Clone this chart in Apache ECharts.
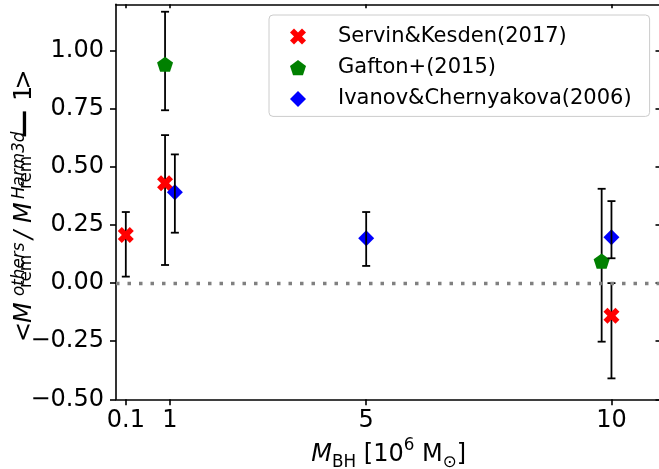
<!DOCTYPE html>
<html><head><meta charset="utf-8">
<script src="https://cdn.jsdelivr.net/npm/echarts@6/dist/echarts.min.js"></script>
<style>html,body{margin:0;padding:0;background:#fff}#c{width:659px;height:469px}</style>
</head><body><div id="c"></div>
<script>
// ---- data ----
const xTicks = [0.1, 1, 5, 10];
const yTicks = [-0.5, -0.25, 0, 0.25, 0.5, 0.75, 1.0];
const seriesNames = ['Servin&Kesden(2017)', 'Gafton+(2015)', 'Ivanov&Chernyakova(2006)'];
const servinX  = [0.1, 0.9, 10.0];
const servinY  = [0.207, 0.430, -0.140];
const servinLo = [0.028, 0.078, -0.410];
const servinHi = [0.306, 0.637, 0.0];
const gaftonX  = [0.9, 9.8];
const gaftonY  = [0.942, 0.095];
const gaftonLo = [0.744, -0.252];
const gaftonHi = [1.168, 0.406];
const ivanovX  = [1.1, 5.0, 10.0];
const ivanovY  = [0.391, 0.193, 0.197];
const ivanovLo = [0.217, 0.074, 0.107];
const ivanovHi = [0.554, 0.306, 0.353];

const FONT = 'DejaVu Sans';
const pts = (xs, ys) => xs.map((x, i) => [x, ys[i]]);
const errs = (xs, lo, hi) => xs.map((x, i) => [x, lo[i], hi[i]]);

function renderErr(params, api) {
  const x = api.value(0), lo = api.value(1), hi = api.value(2);
  const a = api.coord([x, lo]), b = api.coord([x, hi]);
  const cap = 4;
  const style = {stroke: '#000', lineWidth: 1.8};
  return {type: 'group', children: [
    {type: 'line', shape: {x1: a[0], y1: a[1], x2: b[0], y2: b[1]}, style},
    {type: 'line', shape: {x1: a[0] - cap, y1: a[1], x2: a[0] + cap, y2: a[1]}, style},
    {type: 'line', shape: {x1: b[0] - cap, y1: b[1], x2: b[0] + cap, y2: b[1]}, style}
  ]};
}

const X_PATH = 'path://M1,-2L2,-1L1,0L2,1L1,2L0,1L-1,2L-2,1L-1,0L-2,-1L-1,-2L0,-1Z';
const PENT_PATH = 'path://M0,-1L0.951,-0.309L0.588,0.809L-0.588,0.809L-0.951,-0.309Z';

const chart = echarts.init(document.getElementById('c'), null, {renderer: 'canvas'});

const tickLabelStyle = {fontFamily: FONT, fontSize: 24, color: '#000'};
const lineBlack = {color: '#000', width: 1.6};

const fmtY = v => (v < 0 ? '\u2212' : '') + Math.abs(v).toFixed(2);

// y-title tokens (local coords of a rotated group)
const M24 = -8.3, SUP = -13.8, SUB = -6;
function tk(text, x, y, size, italic) {
  return {type: 'text', x: x, y: y, style: {text: text, fontFamily: FONT, fontSize: size,
    fontStyle: italic ? 'italic' : 'normal', fill: '#000', align: 'left', verticalAlign: 'middle'}};
}

chart.setOption({
  animation: false,
  backgroundColor: '#fff',
  grid: {left: 116, top: 4.3, width: 545.5, height: 395, containLabel: false, outerBoundsMode: 'none'},
  legend: {
    data: seriesNames, orient: 'vertical', left: 269, top: 15,
    padding: [11, 18, 7, 21],
    itemWidth: 16, itemHeight: 16, itemGap: 10.2,
    borderColor: '#cccccc', borderWidth: 1, borderRadius: 4,
    backgroundColor: 'rgba(255,255,255,0.8)',
    selectedMode: false,
    textStyle: {fontFamily: FONT, fontSize: 21, color: '#000', lineHeight: 16, padding: [0, 0, 0, 27]}
  },
  xAxis: [{
    type: 'value', min: -0.1, max: 11.02, position: 'bottom',
    axisLine: {onZero: false, lineStyle: lineBlack},
    axisTick: {customValues: xTicks, length: 6, lineStyle: lineBlack},
    axisLabel: Object.assign({customValues: xTicks, margin: 9, formatter: v => String(v)}, tickLabelStyle),
    splitLine: {show: false},
    name: '{i|M}{sub|BH}{n| [10}{sup|6}{n| M}{sub|\u2299}{n|]}',
    nameLocation: 'middle', nameGap: 38,
    nameTextStyle: {fontFamily: FONT, fontSize: 24, color: '#000', rich: {
      i: {fontFamily: FONT, fontSize: 24, fontStyle: 'italic', lineHeight: 34, verticalAlign: 'middle'},
      n: {fontFamily: FONT, fontSize: 24, lineHeight: 34, verticalAlign: 'middle'},
      sub: {fontFamily: FONT, fontSize: 16.8, lineHeight: 21.6, verticalAlign: 'bottom'},
      sup: {fontFamily: FONT, fontSize: 16.8, lineHeight: 29, verticalAlign: 'top'}
    }}
  }, {
    type: 'value', min: -0.1, max: 11.02, position: 'top',
    axisLine: {show: true, onZero: false, lineStyle: lineBlack},
    axisTick: {show: true, inside: true, customValues: xTicks, length: 4, lineStyle: lineBlack},
    axisLabel: {show: false}, splitLine: {show: false}
  }],
  yAxis: [{
    type: 'value', min: -0.5, max: 1.2, position: 'left',
    axisLine: {show: true, onZero: false, lineStyle: lineBlack},
    axisTick: {show: true, customValues: yTicks, length: 6, lineStyle: lineBlack},
    axisLabel: Object.assign({customValues: yTicks, margin: 12, formatter: fmtY}, tickLabelStyle),
    splitLine: {show: false}
  }, {
    type: 'value', min: -0.5, max: 1.2, position: 'right',
    axisLine: {show: true, onZero: false, lineStyle: lineBlack},
    axisTick: {show: true, inside: true, customValues: yTicks, length: 6, lineStyle: lineBlack},
    axisLabel: {show: false}, splitLine: {show: false}
  }],
  graphic: [{
    type: 'group', x: 33, y: 343, rotation: Math.PI / 2, silent: true,
    children: [
      tk('<', 1, M24, 24, false),
      tk('M', 20, M24, 24, true),
      tk('others', 47, SUP, 16.8, true),
      tk('rem', 55, SUB, 16.8, false),
      tk('/', 104, M24, 24, true),
      tk('M', 120, M24, 24, true),
      tk('Harm3d', 144, SUP, 16.8, true),
      tk('rem', 154, SUB, 16.8, false),
      tk('\u2212', 202.6, -6, 40, false),
      tk('1', 242, M24, 24, false),
      tk('>', 253.5, M24, 24, false)
    ]
  }],
  series: [
    {type: 'custom', name: 'errServin', renderItem: renderErr, data: errs(servinX, servinLo, servinHi),
      encode: {x: 0, y: [1, 2]}, z: 1, silent: true},
    {type: 'custom', name: 'errGafton', renderItem: renderErr, data: errs(gaftonX, gaftonLo, gaftonHi),
      encode: {x: 0, y: [1, 2]}, z: 1, silent: true},
    {type: 'scatter', name: seriesNames[0], data: pts(servinX, servinY), symbol: X_PATH, symbolSize: 16,
      itemStyle: {color: '#ff0000', opacity: 1}, z: 2,
      markLine: {silent: true, symbol: 'none', label: {show: false},
        lineStyle: {color: '#808080', width: 3.3, type: [3.5, 8], cap: 'butt', opacity: 1},
        emphasis: {disabled: true},
        data: [{yAxis: 0}]}},
    {type: 'scatter', name: seriesNames[1], data: pts(gaftonX, gaftonY), symbol: PENT_PATH, symbolSize: 16,
      symbolKeepAspect: true, itemStyle: {color: '#008000', opacity: 1}, z: 2},
    {type: 'scatter', name: seriesNames[2], data: pts(ivanovX, ivanovY), symbol: 'diamond', symbolSize: 16,
      itemStyle: {color: '#0000ff', opacity: 1}, z: 2},
    {type: 'custom', name: 'errIvanov', renderItem: renderErr, data: errs(ivanovX, ivanovLo, ivanovHi),
      encode: {x: 0, y: [1, 2]}, z: 3, silent: true}
  ]
});
</script></body></html>
